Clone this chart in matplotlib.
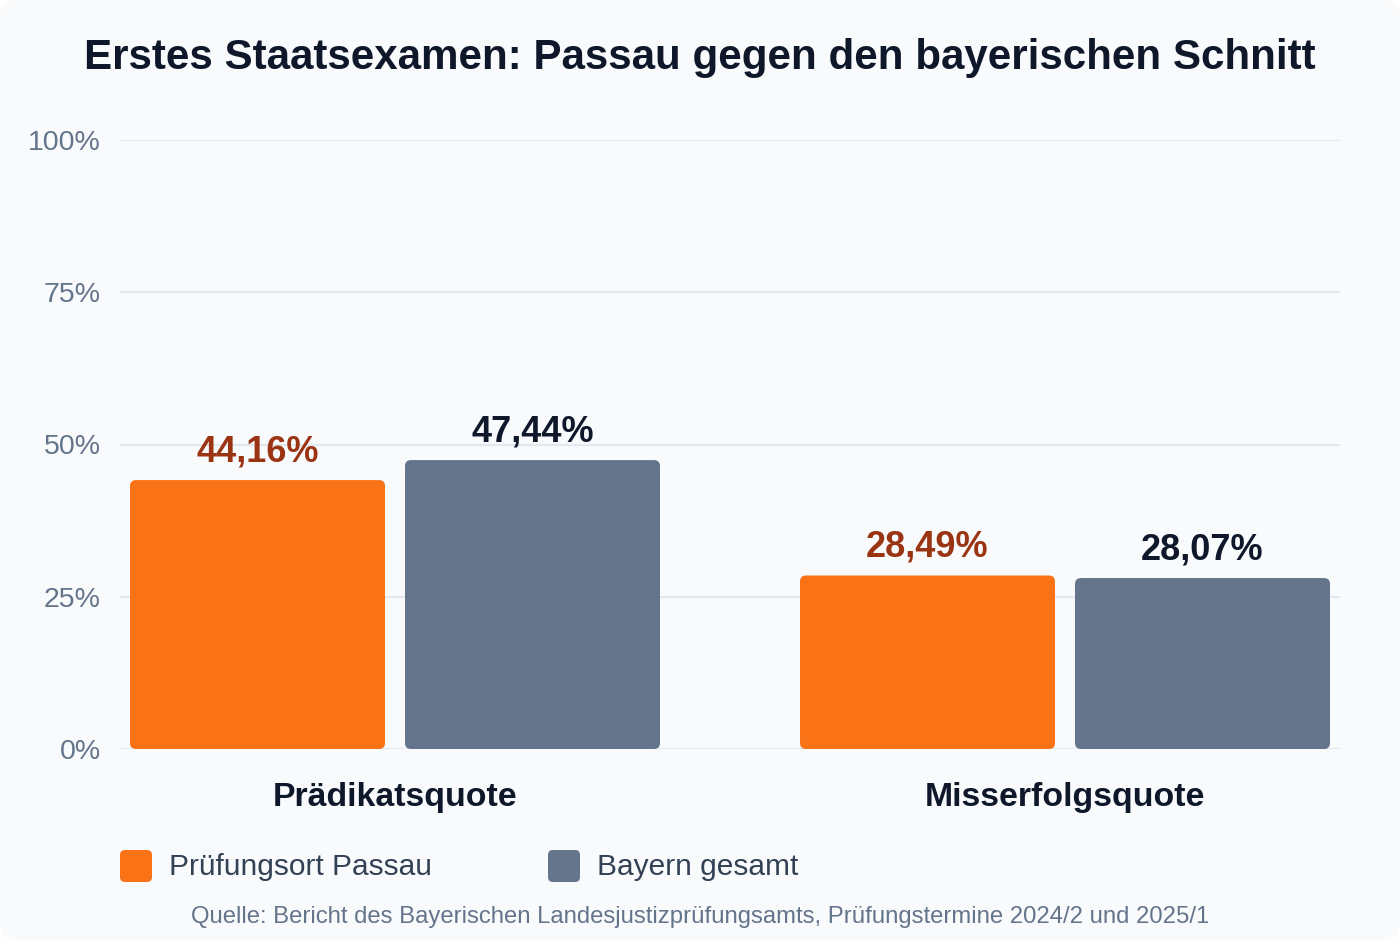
import matplotlib.pyplot as plt
from matplotlib.patches import FancyBboxPatch

categories = ["Prädikatsquote", "Misserfolgsquote"]
series_names = ["Prüfungsort Passau", "Bayern gesamt"]
passau = [44.16, 28.49]
bayern = [47.44, 28.07]
yticks = [0, 25, 50, 75, 100]

title = "Erstes Staatsexamen: Passau gegen den bayerischen Schnitt"
source = "Quelle: Bericht des Bayerischen Landesjustizprüfungsamts, Prüfungstermine 2024/2 und 2025/1"

bg = "#f8fafc"
orange = "#f97316"
slate = "#64748b"
label_orange = "#9a3412"
dark = "#0f172a"
grid = "#e2e8f0"

plt.rcParams['font.family'] = ['Liberation Sans', 'DejaVu Sans']

W, H = 1400, 950
fig = plt.figure(figsize=(14, 9.5), dpi=100, facecolor="white")
asp = W / H

# card background with rounded corners
card = FancyBboxPatch((0, 1 - 940 / H), 1, 940 / H,
                      boxstyle="round,pad=0,rounding_size=%f" % (16 / W),
                      mutation_aspect=asp, facecolor=bg, edgecolor='none',
                      transform=fig.transFigure, zorder=-10)
fig.patches.append(card)

ax = fig.add_axes([120 / W, 1 - 749 / H, 1220 / W, 609 / H])
ax.set_facecolor('none')

# pixel-based scale: 670 px per category unit
ax.set_xlim(-275 / 670, 1 + 275 / 670)
ax.set_ylim(0, 100)

bar_w = 255 / 670
offset = 137.5 / 670
aspect = (100 / 609) / (1 / 670)

for i in range(len(categories)):
    for vals, col, lc, sign in [(passau, orange, label_orange, -1), (bayern, slate, dark, 1)]:
        cx = i + sign * offset
        v = vals[i]
        box = FancyBboxPatch((cx - bar_w / 2, 0), bar_w, v,
                             boxstyle="round,pad=0,rounding_size=%f" % (6 / 670),
                             mutation_aspect=aspect, facecolor=col, edgecolor='none', zorder=3)
        ax.add_patch(box)
        ax.annotate(f"{v:.2f}%".replace(".", ","), (cx, v), xytext=(0, 13.5),
                    textcoords='offset points', ha='center', va='baseline',
                    fontsize=26, fontweight='bold', color=lc, zorder=4)

ax.set_yticks(yticks)
ax.set_yticklabels([f"{t}%" for t in yticks])
ax.grid(axis='y', color=grid, linewidth=1.5, zorder=0)
ax.set_xticks(range(len(categories)))
ax.set_xticklabels(categories, fontsize=24.4, fontweight='bold', color=dark)
ax.tick_params(axis='x', length=0, pad=23.5)
ax.tick_params(axis='y', length=0, pad=14, labelsize=20.5, labelcolor=slate)
for s in ax.spines.values():
    s.set_visible(False)

fig.text(0.5, 1 - 58 / H, title, ha='center', va='center', fontsize=30.3,
         fontweight='bold', color=dark)

# legend
for x0, name, col in [(120, series_names[0], orange), (548, series_names[1], slate)]:
    sq = FancyBboxPatch((x0 / W, 1 - 882 / H), 32 / W, 32 / H,
                        boxstyle="round,pad=0,rounding_size=%f" % (5 / W),
                        mutation_aspect=asp, facecolor=col, edgecolor='none',
                        transform=fig.transFigure)
    fig.patches.append(sq)
    fig.text((x0 + 49) / W, 1 - 867 / H, name, ha='left', va='center',
             fontsize=21.5, color="#334155")

fig.text(0.5, 1 - 917 / H, source, ha='center', va='center', fontsize=17.2, color=slate)

fig.savefig("out.png", dpi=100, facecolor="white")
